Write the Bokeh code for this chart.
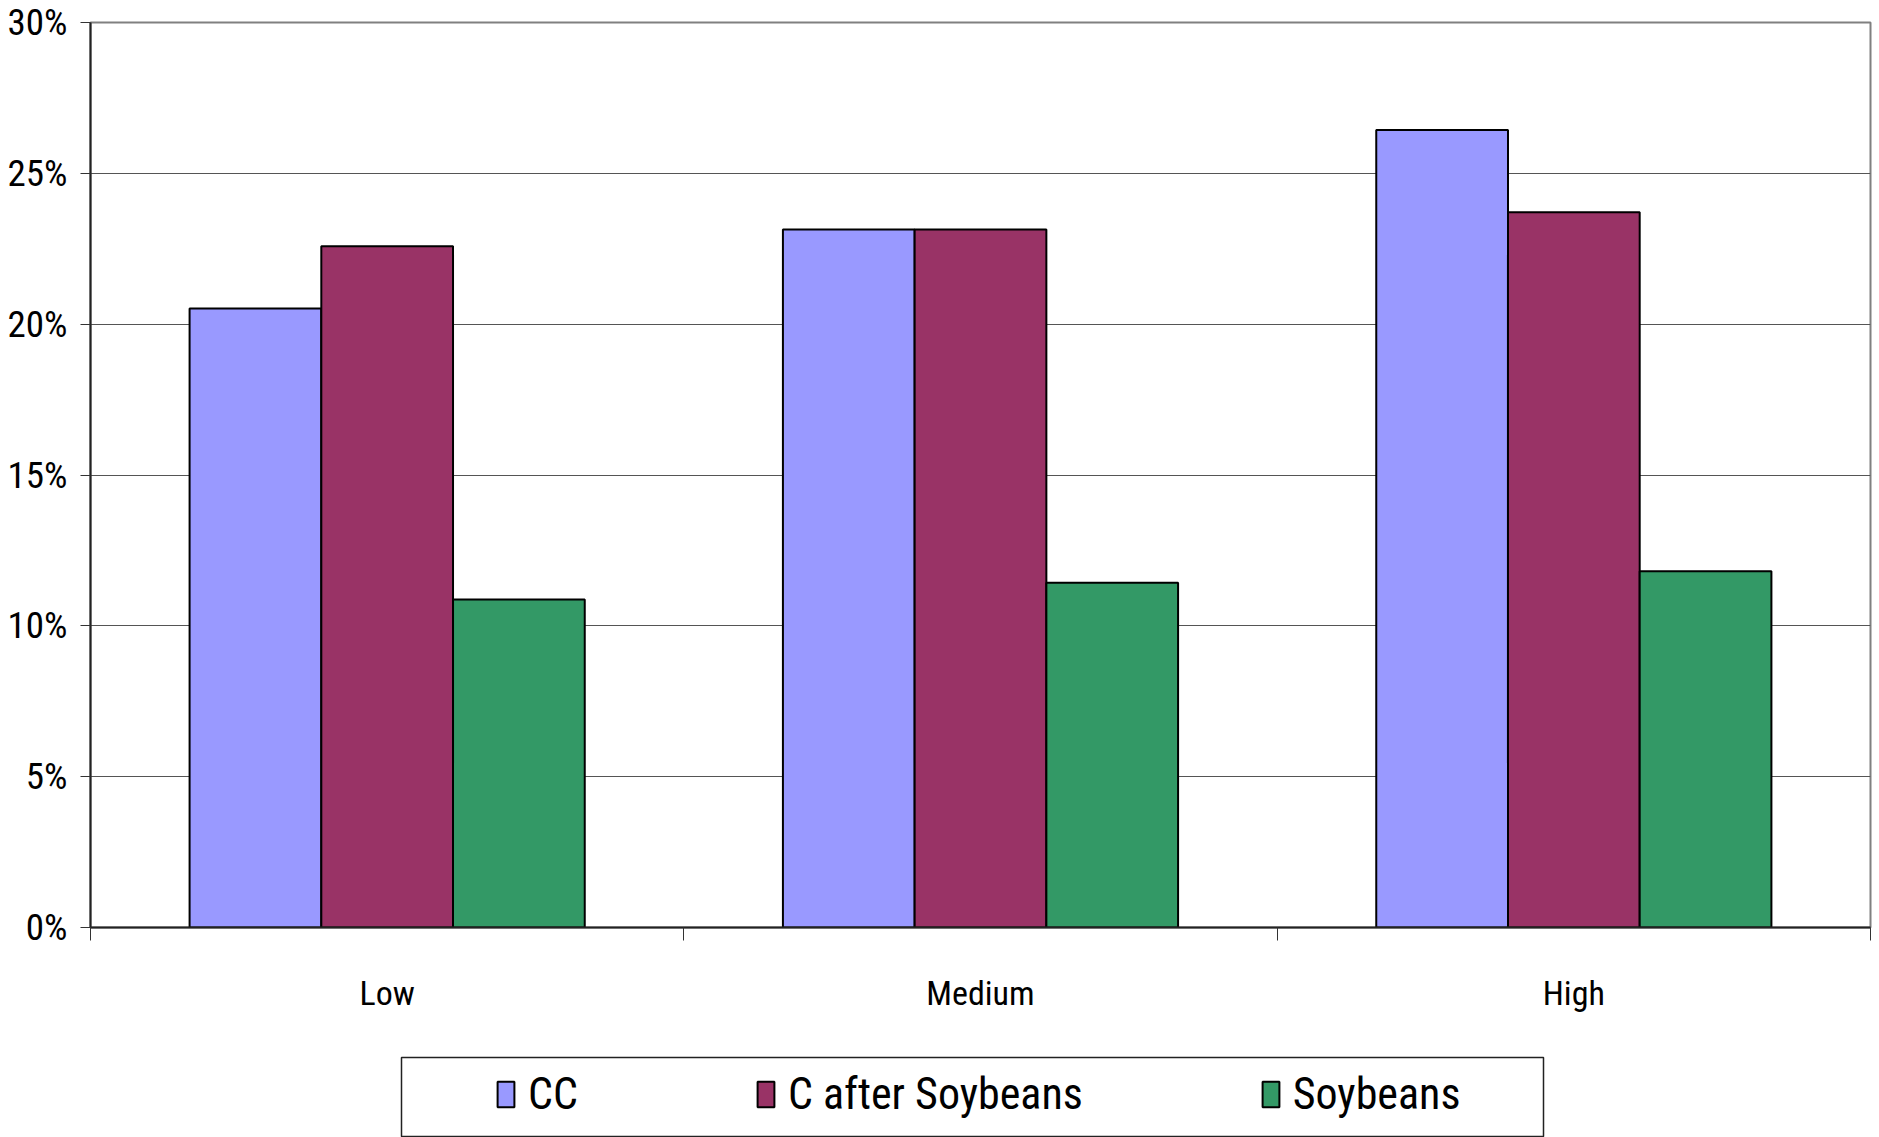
from bokeh.plotting import figure
from bokeh.models import Range1d, FixedTicker, NumeralTickFormatter, Legend, LegendItem
from bokeh.layouts import column
from bokeh.embed import file_html
from bokeh.resources import INLINE

categories = ["Low", "Medium", "High"]
series_names = ["CC", "C after Soybeans", "Soybeans"]
cc = [0.2052, 0.2314, 0.2644]
c_after_soy = [0.2258, 0.2314, 0.2371]
soybeans = [0.1087, 0.1143, 0.1181]
series_values = [cc, c_after_soy, soybeans]
colors = ["#9999FF", "#993366", "#339966"]
y_ticks = [0.0, 0.05, 0.10, 0.15, 0.20, 0.25, 0.30]

FONT = "Roboto Condensed"
bar_w = 0.222
centers = [i + 0.5 for i in range(len(categories))]

# ---------------- main chart ----------------
p = figure(width=1879, height=1050, output_backend="svg", toolbar_location=None,
           x_range=Range1d(0, len(categories)), y_range=Range1d(0, 0.30),
           min_border_left=90, min_border_right=9, min_border_top=22, min_border_bottom=123,
           frame_align=False)
p.background_fill_color = "white"
p.border_fill_color = "white"
p.outline_line_color = "#808080"
p.outline_line_width = 2

for j, (vals, col) in enumerate(zip(series_values, colors)):
    xs = [c + (j - 1) * bar_w for c in centers]
    p.vbar(x=xs, top=vals, bottom=0, width=bar_w, fill_color=col,
           line_color="black", line_width=2)

xa = p.xaxis[0]
xa.ticker = FixedTicker(ticks=centers, minor_ticks=[float(i) for i in range(len(categories) + 1)])
xa.major_label_overrides = {c: lab for c, lab in zip(centers, categories)}
xa.major_tick_line_color = None
xa.major_tick_out = 0
xa.major_tick_in = 0
xa.minor_tick_out = 13
xa.minor_tick_in = 0
xa.minor_tick_line_color = "#333333"
xa.minor_tick_line_width = 1
xa.axis_line_color = "#222222"
xa.axis_line_width = 2
xa.major_label_standoff = 32
xa.major_label_text_font = FONT
xa.major_label_text_font_size = "34px"
xa.major_label_text_color = "black"

ya = p.yaxis[0]
ya.ticker = FixedTicker(ticks=y_ticks, minor_ticks=[])
ya.formatter = NumeralTickFormatter(format="0%")
ya.major_tick_out = 10
ya.major_tick_in = 0
ya.major_tick_line_color = "#333333"
ya.axis_line_color = "#222222"
ya.axis_line_width = 2
ya.major_label_standoff = 13
ya.major_label_text_font = FONT
ya.major_label_text_font_size = "37px"
ya.major_label_text_color = "black"

p.xgrid.grid_line_color = None
p.ygrid.ticker = FixedTicker(ticks=y_ticks)
p.ygrid.grid_line_color = "#555555"
p.ygrid.grid_line_width = 1

# ---------------- legend strip ----------------
lg = figure(width=1879, height=87, output_backend="svg", toolbar_location=None,
            x_range=Range1d(0, len(categories)), y_range=Range1d(0, 0.30),
            x_axis_type=None, y_axis_type=None,
            min_border_left=401, min_border_right=336, min_border_top=7, min_border_bottom=0,
            frame_align=False)
lg.grid.visible = False
lg.outline_line_color = "#222222"
lg.outline_line_width = 1.5
lg.background_fill_color = "white"
lg.border_fill_color = "white"

leg_renderers = []
for j, (vals, col) in enumerate(zip(series_values, colors)):
    xs = [c + (j - 1) * bar_w for c in centers]
    r = lg.vbar(x=xs, top=vals, bottom=0, width=bar_w, fill_color=col,
                line_color="black", line_width=2, visible=False)
    leg_renderers.append(r)

legend = Legend(items=[LegendItem(label=n, renderers=[r]) for n, r in zip(series_names, leg_renderers)],
                orientation="horizontal", location=(94, 17),
                spacing=177, padding=0, margin=0, label_standoff=12,
                glyph_width=21, glyph_height=32, label_height=46,
                label_text_font=FONT, label_text_font_size="44px", label_text_color="black",
                inactive_fill_alpha=0.0,
                border_line_color=None, background_fill_alpha=0.0)
lg.add_layout(legend, "center")

open("out.html", "w").write(file_html(column(p, lg, spacing=0), INLINE))
